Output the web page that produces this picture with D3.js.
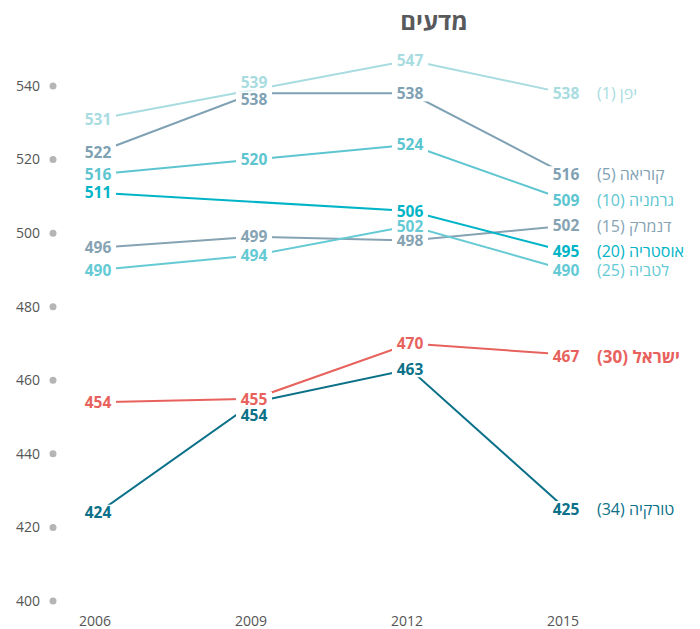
<!DOCTYPE html>
<html>
<head>
<meta charset="utf-8">
<script src="https://cdn.jsdelivr.net/npm/d3@7.9.0/dist/d3.min.js"></script>
<style>
  body { margin: 0; background: #fff; }
  svg { font-family: "Open Sans", sans-serif; }
</style>
</head>
<body>
<svg width="700" height="629"></svg>
<script>
// data
const years = [2006, 2009, 2012, 2015];
const yTicks = [400, 420, 440, 460, 480, 500, 520, 540];
const countries = ['יפן (1)', 'קוריאה (5)', 'גרמניה (10)', 'דנמרק (15)', 'אוסטריה (20)', 'לטביה (25)', 'ישראל (30)', 'טורקיה (34)'];
const japan   = [531, 539, 547, 538];
const korea   = [522, 538, 538, 516];
const germany = [516, 520, 524, 509];
const denmark = [496, 499, 498, 502];
const austria = [511, null, 506, 495];
const latvia  = [490, 494, 502, 490];
const israel  = [454, 455, 470, 467];
const turkey  = [424, 454, 463, 425];
const colors = ['#a8dce0', '#7fa1b4', '#5cc5d0', '#86a3b3', '#00b4c7', '#66cad5', '#e8625d', '#0b7189'];

const series = [japan, korea, germany, denmark, austria, latvia, israel, turkey];

// small label nudges where labels would collide (series index -> year index -> dy)
const nudge = { 0: { 1: -7 }, 1: { 1: 6 }, 7: { 1: 13 }, 6: { 1: 1, 3: 2 }, 5: { 2: 1 } };

const svg = d3.select('svg');
const x = d3.scalePoint().domain(years).range([98, 566]);
const y = d3.scaleLinear().domain([400, 540]).range([601, 86]);

// title
svg.append('text')
    .attr('x', 434).attr('y', 30)
    .attr('text-anchor', 'middle')
    .attr('font-size', 24).attr('font-weight', 700)
    .attr('fill', '#58595b')
    .text('מדעים');

// y axis: labels + dots
const yAxis = svg.append('g');
yTicks.forEach(t => {
    yAxis.append('circle').attr('cx', 53).attr('cy', y(t)).attr('r', 3.5).attr('fill', '#b5b5b5');
    yAxis.append('text').attr('x', 40).attr('y', y(t)).attr('dy', '0.35em')
        .attr('text-anchor', 'end').attr('font-size', 14).attr('fill', '#555')
        .text(t);
});

// x axis labels
years.forEach(yr => {
    svg.append('text').attr('x', x(yr) - 3).attr('y', 626)
        .attr('text-anchor', 'middle').attr('font-size', 14).attr('fill', '#555')
        .text(yr);
});

// lines
const line = d3.line()
    .x(d => x(d.year))
    .y(d => y(d.v));

series.forEach((vals, i) => {
    const pts = vals.map((v, j) => ({ year: years[j], v })).filter(d => d.v != null);
    svg.append('path')
        .datum(pts)
        .attr('d', line)
        .attr('fill', 'none')
        .attr('stroke', colors[i])
        .attr('stroke-width', 2);
});

// value labels with white boxes that cut the lines
const labels = svg.append('g');
series.forEach((vals, i) => {
    vals.forEach((v, j) => {
        if (v == null) return;
        const dy = (nudge[i] && nudge[i][j]) || 0;
        const cx = x(years[j]), cy = y(v) + dy;
        labels.append('rect')
            .attr('x', cx - 18).attr('y', cy - 8)
            .attr('width', 36).attr('height', 16)
            .attr('fill', '#fff');
        labels.append('text')
            .attr('x', cx).attr('y', cy).attr('dy', '0.36em')
            .attr('text-anchor', 'middle')
            .attr('font-size', 15.5).attr('font-weight', 700)
            .attr('fill', colors[i])
            .text(v);
    });
});

// country names on the right
series.forEach((vals, i) => {
    const last = vals[vals.length - 1];
    const isIsrael = i === 6;
    svg.append('text')
        .attr('x', 597).attr('y', y(last) + (isIsrael ? 2 : 0)).attr('dy', '0.36em')
        .attr('direction', 'rtl')
        .attr('text-anchor', 'end')
        .attr('font-size', isIsrael ? 17 : 16)
        .attr('font-weight', isIsrael ? 700 : 500)
        .attr('fill', colors[i])
        .text(countries[i]);
});
</script>
</body>
</html>
